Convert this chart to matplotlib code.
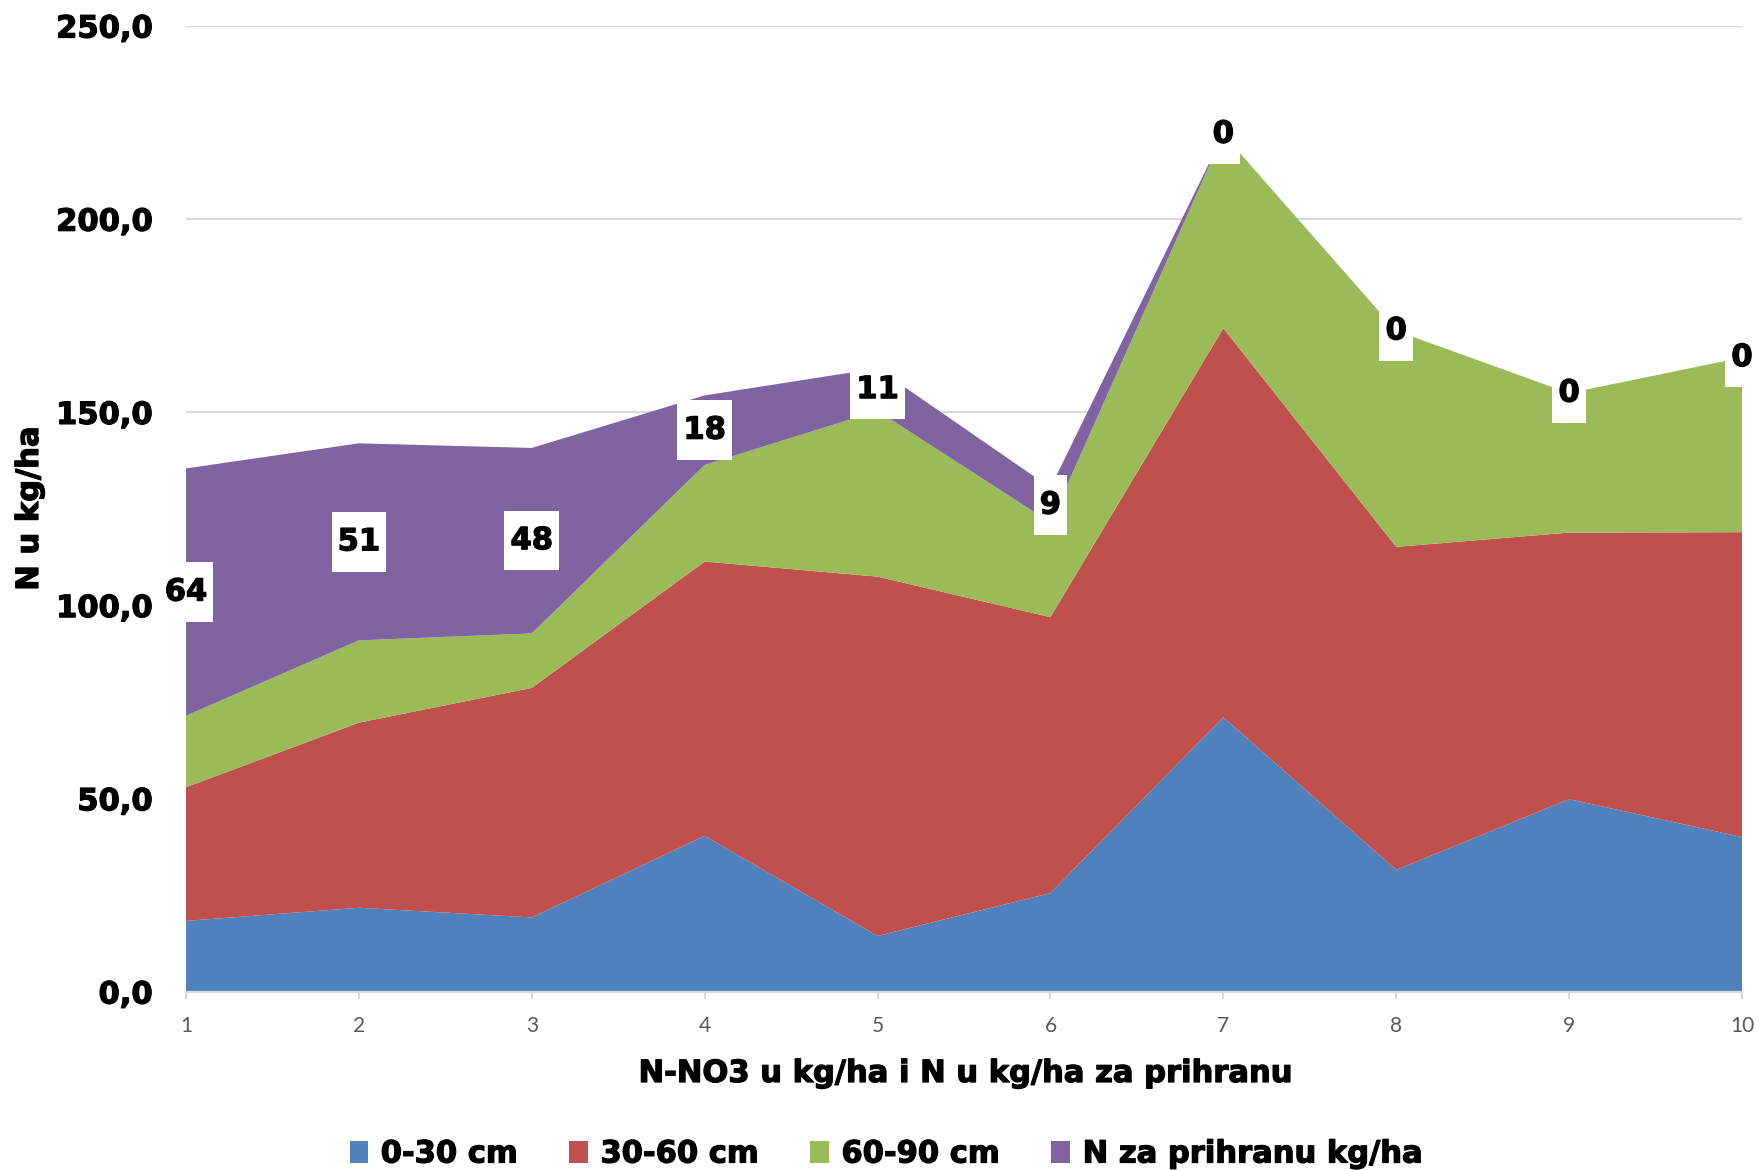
import matplotlib
matplotlib.use("Agg")
import matplotlib.pyplot as plt
import matplotlib.patches as mpatches
import matplotlib.patheffects as pe
from matplotlib.path import Path
import numpy as np

# data
samples = [1, 2, 3, 4, 5, 6, 7, 8, 9, 10]
layer_0_30 = [18.4, 21.8, 19.3, 40.4, 14.5, 25.6, 71.1, 31.6, 49.9, 40.1]
layer_30_60 = [34.6, 47.9, 59.4, 71.0, 93.0, 71.4, 100.7, 83.6, 69.0, 78.9]
layer_60_90 = [18.5, 21.3, 14.1, 25.0, 42.9, 24.5, 50.2, 55.9, 36.1, 45.2]
n_prihrana = [64, 51, 48, 18, 11, 9, 0, 0, 0, 0]
series_names = ['0-30 cm', '30-60 cm', '60-90 cm', 'N za prihranu kg/ha']
y_ticks = [0, 50, 100, 150, 200, 250]

# Excel 2007 palette
blue = '#4F81BD'
red = '#C0504D'
green = '#9BBB59'
purple = '#8064A2'
grid_grey = '#D9D9D9'
tick_grey = '#595959'

plt.rcParams['font.family'] = ['DejaVu Sans']
heavy = [pe.withStroke(linewidth=0.9, foreground='black')]


def label_box(x0, y0, width, height, mutation_size):
    # white box, taller than wide padding like Excel data labels
    px = 0.2 * mutation_size
    py = 0.5 * mutation_size
    x0, x1 = x0 - px, x0 + width + px
    y0, y1 = y0 - py, y0 + height + py
    return Path([(x0, y0), (x1, y0), (x1, y1), (x0, y1), (x0, y0)], closed=True)


fig = plt.figure(figsize=(17.6, 11.7), dpi=100)
ax = fig.add_axes([186 / 1760, 1 - 992 / 1170, (1742 - 186) / 1760, (992 - 26) / 1170])

ax.stackplot(samples, layer_0_30, layer_30_60, layer_60_90, n_prihrana,
             colors=[blue, red, green, purple], linewidth=0, zorder=2)

ax.set_xlim(1, 10)
ax.set_ylim(0, 250)
ax.set_yticks(y_ticks)
ax.set_yticklabels([f'{v:.1f}'.replace('.', ',') for v in y_ticks],
                   fontsize=22, fontweight='bold')
for lbl in ax.get_yticklabels():
    lbl.set_path_effects(heavy)
ax.set_xticks(samples)
ax.set_xticklabels([str(s) for s in samples], fontsize=15, color=tick_grey,
                   family=['Lato', 'DejaVu Sans'])
ax.tick_params(axis='y', length=0, pad=24)
ax.tick_params(axis='x', length=5, width=1.5, color=grid_grey, pad=12)

ax.yaxis.grid(True, color=grid_grey, linewidth=1.6, zorder=0)
ax.set_axisbelow(True)
for side in ['left', 'top', 'right']:
    ax.spines[side].set_visible(False)
ax.spines['bottom'].set_color(grid_grey)
ax.spines['bottom'].set_linewidth(1.6)
ax.spines['bottom'].set_zorder(3)

# data labels in the middle of the top layer
base = np.array(layer_0_30) + np.array(layer_30_60) + np.array(layer_60_90)
for x, b, v in zip(samples, base, n_prihrana):
    ax.text(x, b + v / 2, str(v), ha='center', va='center', fontsize=22,
            fontweight='bold', color='black', zorder=6, clip_on=False,
            path_effects=heavy,
            bbox=dict(boxstyle=label_box, facecolor='white', edgecolor='none'))

# axis titles
fig.text(964 / 1760, 1 - 1082 / 1170, 'N-NO3 u kg/ha i N u kg/ha za prihranu',
         ha='center', va='baseline', fontsize=22, fontweight='bold', path_effects=heavy)
fig.text(38 / 1760, 1 - 509 / 1170, 'N u kg/ha', rotation=90, rotation_mode='anchor',
         ha='center', va='baseline', fontsize=22, fontweight='bold', path_effects=heavy)

handles = [mpatches.Patch(facecolor=c, edgecolor='none', label=n)
           for c, n in zip([blue, red, green, purple], series_names)]
leg = fig.legend(handles=handles, loc='center', bbox_to_anchor=(0.503, 1 - 1154 / 1170),
                 ncol=4, frameon=False, handlelength=0.6, handleheight=0.7,
                 handletextpad=0.42, columnspacing=1.7,
                 prop={'size': 22, 'weight': 'bold'})
for t in leg.get_texts():
    t.set_path_effects(heavy)

plt.savefig('out.png', dpi=100, facecolor='white')
